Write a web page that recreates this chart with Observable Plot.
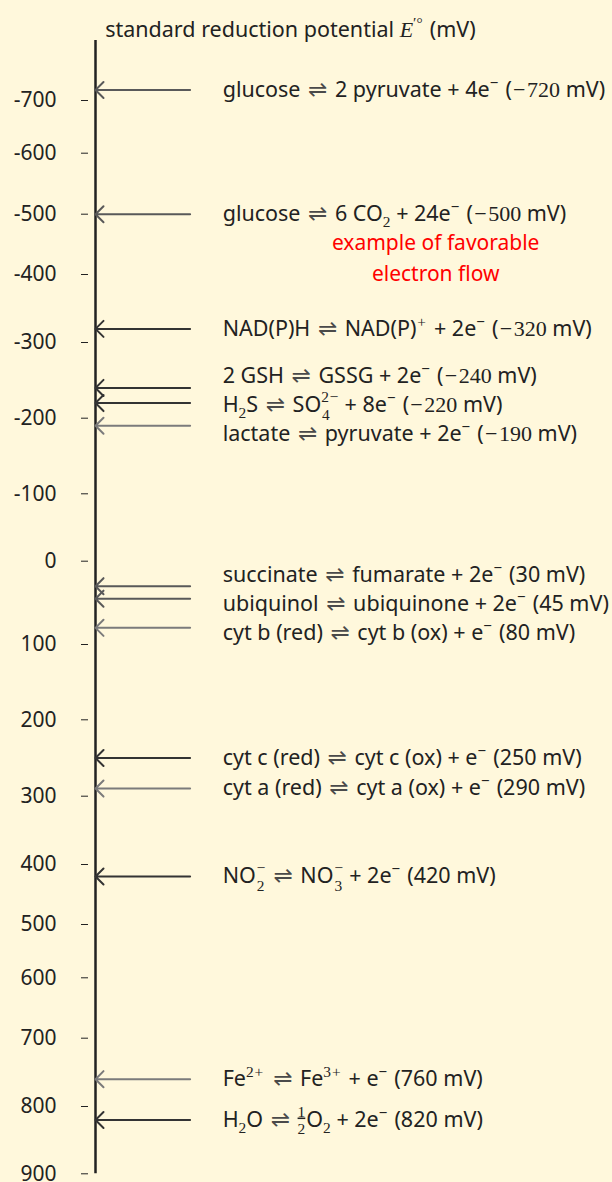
<!DOCTYPE html>
<html>
<head>
<meta charset="utf-8">
<script src="https://cdn.jsdelivr.net/npm/d3@7"></script>
<script src="https://cdn.jsdelivr.net/npm/@observablehq/plot@0.6"></script>
<style>
  html, body { margin: 0; padding: 0; background: #fff8dc; }
  #chart svg { display: block; }
  #err { position: absolute; left: 0; bottom: 0; color: blue; font: 12px sans-serif; white-space: pre; }
</style>
</head>
<body>
<div id="chart"></div>
<div id="err"></div>
<script>
// ---------- data ----------
const potentials = [-720, -500, -320, -240, -220, -190, 30, 45, 80, 250, 290, 420, 760, 820];
const reactions = [
  "glucose ⇌ 2 pyruvate + 4e^{−} ($−720$ mV)",
  "glucose ⇌ 6 CO_{$2$} + 24e^{−} ($−500$ mV)",
  "NAD(P)H ⇌ NAD(P)^{$+$} + 2e^{−} ($−320$ mV)",
  "2 GSH ⇌ GSSG + 2e^{−} ($−240$ mV)",
  "H_{$2$}S ⇌ SO^_{$2−$}{$4$} + 8e^{−} ($−220$ mV)",
  "lactate ⇌ pyruvate + 2e^{−} ($−190$ mV)",
  "succinate ⇌ fumarate + 2e^{−} (30 mV)",
  "ubiquinol ⇌ ubiquinone + 2e^{−} (45 mV)",
  "cyt b (red) ⇌ cyt b (ox) + e^{−} (80 mV)",
  "cyt c (red) ⇌ cyt c (ox) + e^{−} (250 mV)",
  "cyt a (red) ⇌ cyt a (ox) + e^{−} (290 mV)",
  "NO^_{$−$}{$2$} ⇌ NO^_{$−$}{$3$} + 2e^{−} (420 mV)",
  "Fe^{$2+$} ⇌ Fe^{$3+$} + e^{−} (760 mV)",
  "H_{$2$}O ⇌ \\frac{$1$}{$2$}O_{$2$} + 2e^{−} (820 mV)"
];
const tones = ["mid", "mid", "dark", "dark", "dark", "light", "mid", "mid", "light", "dark", "light", "dark", "light", "dark"];
const tickValues = [-700, -600, -500, -400, -300, -200, -100, 0, 100, 200, 300, 400, 500, 600, 700, 800, 900];
const tickLabels = ["-700", "-600", "-500", "-400", "-300", "-200", "-100", "0", "100", "200", "300", "400", "500", "600", "700", "800", "900"];
const titleText = "standard reduction potential *E*^{$′°$} (mV)";
const annotationText = "example of favorable\nelectron flow";
const annotationValue = -432;

// ---------- scales ----------
// the printed axis is not evenly spaced: a piecewise scale through its ticks
const yScaleOptions = {
  type: "linear",
  domain: tickValues,
  range: [100, 152.7, 213.7, 274, 342, 417.7, 493.3, 560.7, 644, 719.3, 795.7, 864, 924, 977.3, 1037.7, 1106, 1173.3]
};
const yScale = Plot.scale({y: yScaleOptions});

// spread labels of close values apart (centered dodge)
function dodge(ps, gap) {
  let groups = ps.map((p, i) => ({idx: [i], sum: p}));
  const start = g => g.sum / g.idx.length - (g.idx.length - 1) * gap / 2;
  let merged = true;
  while (merged) {
    merged = false;
    for (let k = 0; k < groups.length - 1; k++) {
      const a = groups[k], b = groups[k + 1];
      const aEnd = start(a) + (a.idx.length - 1) * gap;
      if (start(b) - aEnd < gap - 1e-9) {
        groups.splice(k, 2, {idx: a.idx.concat(b.idx), sum: a.sum + b.sum});
        merged = true;
        break;
      }
    }
  }
  const out = new Array(ps.length);
  for (const g of groups) g.idx.forEach((i, j) => (out[i] = start(g) + j * gap));
  return out;
}
const labelPix = dodge(potentials.map(v => yScale.apply(v)), 29);
const rows = potentials.map((v, i) => ({
  value: v,
  label: reactions[i],
  tone: tones[i],
  labelY: yScale.invert(labelPix[i])
}));

// ---------- rich text (sub/superscripts, math font) ----------
const BASE = 21.5;
const SHIFT = {base: 0, sup: -0.42, sub: 0.28, top: -0.48, bot: 0.34};
const SIZE = {base: 1, sup: 0.7, sub: 0.7, top: 0.7, bot: 0.7};

function readGroup(s, i) {
  let depth = 0;
  for (let j = i; j < s.length; j++) {
    if (s[j] === "{") depth++;
    else if (s[j] === "}" && --depth === 0) return {text: s.slice(i + 1, j), end: j + 1};
  }
  return {text: s.slice(i + 1), end: s.length};
}
function parseRuns(s, pos, out) {
  pos = pos || "base";
  out = out || [];
  let buf = "", serif = false, italic = false;
  const flush = () => { if (buf) out.push({text: buf, serif: serif, italic: italic, pos: pos}); buf = ""; };
  for (let i = 0; i < s.length; i++) {
    const c = s[i];
    if (c === "$") { flush(); serif = !serif; }
    else if (c === "*") { flush(); italic = !italic; }
    else if (c === "^" || c === "_" || s.startsWith("\\frac", i)) {
      flush();
      let kind;
      if (s.startsWith("\\frac", i)) { kind = "frac"; i += 5; }
      else if (s.startsWith("^_", i)) { kind = "stack"; i += 2; }
      else { kind = c === "^" ? "sup" : "sub"; i += 1; }
      const g1 = readGroup(s, i);
      i = g1.end;
      if (kind === "sup" || kind === "sub") {
        parseRuns(g1.text, kind, out);
      } else {
        const g2 = readGroup(s, i);
        i = g2.end;
        out.push({stack: true, frac: kind === "frac", top: parseRuns(g1.text, "top", []), bot: parseRuns(g2.text, "bot", [])});
      }
      i--;
    }
    else if (c === "⇌") { flush(); out.push({text: "⇌", harpoon: true, pos: pos}); }
    else buf += c;
  }
  flush();
  return out;
}
function renderRich(textEl, str) {
  const ns = "http://www.w3.org/2000/svg";
  const runs = parseRuns(str);
  while (textEl.firstChild) textEl.removeChild(textEl.firstChild);
  let cur = 0, pendingDx = 0, pendingDxAfter = 0;
  function addRun(r, extra) {
    const t = document.createElementNS(ns, "tspan");
    const target = SHIFT[r.pos] * BASE;
    const dy = target - cur;
    cur = target;
    if (dy) t.setAttribute("dy", String(dy));
    if (r.harpoon) pendingDx += 2;
    let size = SIZE[r.pos] * BASE;
    const chars = Array.from(r.text);
    const dxs = chars.map(() => 0);
    if (r.serif && !r.italic) {
      // math operators get a little room, as in typeset formulas
      const k = size / 22;
      chars.forEach((ch, j) => {
        if (ch === "−" || ch === "+") {
          dxs[j] += 1.3 * k;
          if (j + 1 < chars.length) dxs[j + 1] += 1.6 * k;
          else pendingDxAfter = 1.2 * k;
        }
      });
    }
    dxs[0] += pendingDx;
    pendingDx = 0;
    if (dxs.some(v => v)) t.setAttribute("dx", dxs.map(v => +v.toFixed(2)).join(" "));
    if (r.harpoon) {
      t.setAttribute("font-family", "DejaVu Sans");
      t.setAttribute("fill", "#4a4a4a");
      size = 23;
    } else if (r.serif || r.italic) {
      t.setAttribute("font-family", "Liberation Serif");
      size *= 22 / 21.5;
    }
    if (r.italic) t.setAttribute("font-style", "italic");
    if (extra) t.setAttribute("text-decoration", extra);
    t.setAttribute("font-size", String(size));
    t.textContent = r.text;
    textEl.appendChild(t);
    if (r.harpoon) pendingDx += 2;
    if (r.pos === "sup") pendingDx += 1.5;
    pendingDx += pendingDxAfter;
    pendingDxAfter = 0;
    return t;
  }
  const len = e => { try { return e.getComputedTextLength(); } catch (err) { return 0; } };
  for (const r of runs) {
    if (r.stack) {
      const topEls = r.top.map(x => addRun(x, r.frac ? "underline" : null));
      const wTop = topEls.reduce((s, e) => s + len(e), 0);
      pendingDx = -wTop;
      const botEls = r.bot.map(x => addRun(x));
      const wBot = botEls.reduce((s, e) => s + len(e), 0);
      pendingDx = Math.max(0, wTop - wBot) + (r.frac ? 1 : 0.5);
    } else {
      addRun(r);
    }
  }
}

// ---------- chart ----------
const chart = Plot.plot({
  width: 612,
  height: 1182,
  marginLeft: 95,
  marginRight: 0,
  marginTop: 40,
  marginBottom: 8.7,
  style: {background: "#fff8dc", fontFamily: "'Noto Sans', sans-serif", fontSize: "21px", color: "#222"},
  x: {domain: [0, 100], axis: null},
  y: yScaleOptions,
  color: {type: "ordinal", domain: ["dark", "mid", "light"], range: ["#333333", "#595959", "#7b7b7b"]},
  marks: [
    Plot.ruleX([0], {stroke: "#222", strokeWidth: 2.5}),
    Plot.axisY({
      ticks: tickValues,
      tickFormat: (d, i) => tickLabels[i],
      tickSize: 7,
      dx: -7,
      tickPadding: 25,
      fontSize: 21,
      color: "#222",
      label: null
    }),
    Plot.arrow(rows, {
      x1: 18.3, x2: 0,
      y1: "value", y2: "value",
      stroke: "tone",
      strokeWidth: 2,
      headAngle: 90,
      headLength: 8.5
    }),
    Plot.text(rows, {
      x: 24.6, y: "labelY", text: "label",
      textAnchor: "start", fill: "#222", fontSize: 21.5
    }),
    Plot.text([annotationText], {
      x: 65.8, y: annotationValue, text: d => d,
      textAnchor: "middle", fill: "#ff0000", fontSize: 21, lineHeight: 1.51
    }),
    Plot.text([titleText], {
      x: 37.7, frameAnchor: "top", dy: -19, text: d => d,
      textAnchor: "middle", fill: "#222", fontSize: 21.5
    })
  ]
});
document.getElementById("chart").append(chart);
try {
  const markup = /[\^_$*]|\\frac/;
  Array.from(chart.querySelectorAll("text")).forEach(el => {
    const s = el.textContent;
    if (markup.test(s)) renderRich(el, s);
  });
} catch (e) {
  document.getElementById("err").textContent = String(e && e.stack || e);
}
</script>
</body>
</html>
